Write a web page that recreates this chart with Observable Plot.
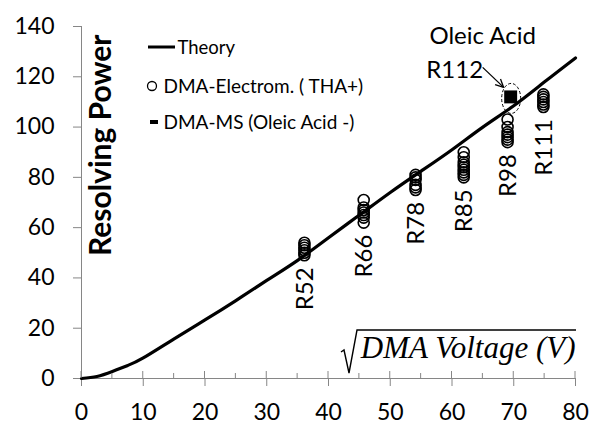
<!DOCTYPE html>
<html>
<head>
<meta charset="utf-8">
<script src="https://cdn.jsdelivr.net/npm/d3@7"></script>
<script src="https://cdn.jsdelivr.net/npm/@observablehq/plot@0.6"></script>
<style>
  html, body { margin: 0; padding: 0; background: #fff; }
  #chart svg { display: block; }
</style>
</head>
<body>
<div id="chart"></div>
<script>
// Axis ticks
const xTicks = [0, 10, 20, 30, 40, 50, 60, 70, 80];
const xMinorTicks = [5, 15, 25, 35, 45, 55, 65, 75];
const yTicks = [0, 20, 40, 60, 80, 100, 120, 140];

// Theoretical resolving power vs sqrt(DMA voltage)
const theoryVoltage = [0, 2.5, 5, 7.5, 10, 15, 20, 25, 30, 35, 40, 45, 50, 55, 60, 65, 70, 75, 80];
const theoryResolution = [0, 0.8, 2.8, 5.2, 8.2, 15.8, 23.3, 31, 39, 47, 56, 65, 74, 82.5, 91, 100, 108.5, 118, 127.5];

// DMA-electrometer runs (THA+): one voltage per run, repeated measurements
const runLabels = ["R52", "R66", "R78", "R85", "R98", "R111"];
const runVoltage = [36.1, 45.7, 54.1, 61.9, 69.0, 74.8];
const runResolution = [
  [49, 50, 51, 52, 53, 54],
  [62, 64, 65, 66, 67, 68, 71],
  [75, 76, 77, 79, 80, 81],
  [80, 81, 82, 83, 84, 85, 86, 88, 90],
  [94, 95, 96, 97, 98, 100, 103],
  [108, 109, 110, 111, 112, 113]
];

// DMA-MS measurement (oleic acid -)
const oleicVoltage = [69.5];
const oleicResolution = [112];
const oleicLabels = ["Oleic Acid", "R112"];

const legendLabels = ["Theory", "DMA-Electrom. ( THA+)", "DMA-MS (Oleic Acid -)"];

const GRAY = "#868686";
const FONT = "Lato, sans-serif";

const theory = theoryVoltage.map((v, i) => ({v, r: theoryResolution[i]}));
const runs = runVoltage.flatMap((v, i) => runResolution[i].map(r => ({v, r})));
const runTags = runLabels.map((label, i) => ({label, v: runVoltage[i], r: d3.min(runResolution[i])}));
const oleic = oleicVoltage.map((v, i) => ({v, r: oleicResolution[i]}));

const plot = Plot.plot({
  width: 595,
  height: 428,
  marginLeft: 81,
  marginRight: 20,
  marginTop: 26,
  marginBottom: 50,
  x: {domain: [0, 80]},
  y: {domain: [0, 140]},
  style: {fontFamily: FONT, fontSize: "23px", background: "white", color: "black"},
  marks: [
    Plot.axisY({ticks: yTicks, tickSize: 8, tickPadding: 19, stroke: GRAY, fill: "black", fontSize: 23, label: null}),
    Plot.axisX({ticks: xTicks, tickSize: 8, tickPadding: 17, stroke: GRAY, fill: "black", fontSize: 23, label: null}),
    Plot.ruleX([0], {stroke: GRAY}),
    Plot.ruleY([0], {stroke: GRAY}),
    Plot.line(theory, {x: "v", y: "r", curve: "natural", stroke: "black", strokeWidth: 3.2}),
    Plot.dot(runs, {x: "v", y: "r", r: 5.5, stroke: "black", strokeWidth: 1.6}),
    Plot.dot(oleic, {x: "v", y: "r", symbol: "square", r: 7.3, fill: "black"}),
    Plot.text(runTags, {x: "v", y: "r", text: "label", rotate: -90, textAnchor: "end", dy: 12, dx: 1, fontSize: 24, fill: "black"}),
    Plot.text(oleic, {x: "v", y: "r", text: () => oleicLabels[0], dx: -28, dy: -53, lineAnchor: "bottom", fontSize: 24, fill: "black"}),
    Plot.text(oleic, {x: "v", y: "r", text: () => oleicLabels[1], dx: -56, dy: -19, lineAnchor: "bottom", fontSize: 24, fill: "black"}),
    Plot.text(["Resolving Power"], {frameAnchor: "top-left", rotate: -90, textAnchor: "end", dx: 8, dy: 8, fontSize: 30, fontWeight: "bold", fill: "black"}),
    Plot.text(["DMA Voltage (V)"], {frameAnchor: "bottom-right", textAnchor: "end", lineAnchor: "bottom", dy: -21, fontSize: 31, fontStyle: "italic", fontFamily: "Liberation Serif, serif", fill: "black"}),
    Plot.text([legendLabels[0]], {frameAnchor: "top-left", textAnchor: "start", lineAnchor: "middle", dx: 96, dy: 22, fontSize: 18.5, fill: "black"}),
    Plot.text([legendLabels[1]], {frameAnchor: "top-left", textAnchor: "start", lineAnchor: "middle", dx: 82, dy: 60, fontSize: 19, fill: "black"}),
    Plot.text([legendLabels[2]], {frameAnchor: "top-left", textAnchor: "start", lineAnchor: "middle", dx: 82, dy: 96, fontSize: 19, fill: "black"})
  ]
});

// Decorations placed through the plot's scales
const sx = plot.scale("x"), sy = plot.scale("y");
const svg = d3.select(plot);
const g = svg.append("g").attr("fill", "none");
const x0 = sx.apply(0), y0 = sy.apply(0);
const xRight = sx.apply(80);

// inward tick marks on the x axis
xTicks.forEach(t => g.append("line").attr("x1", sx.apply(t)).attr("x2", sx.apply(t)).attr("y1", y0 - 7).attr("y2", y0).attr("stroke", GRAY));
xMinorTicks.forEach(t => g.append("line").attr("x1", sx.apply(t)).attr("x2", sx.apply(t)).attr("y1", y0 - 5).attr("y2", y0).attr("stroke", GRAY));

// radical sign over the x-axis title
g.append("path")
  .attr("d", `M${xRight - 234},${y0 - 26} L${xRight - 231},${y0 - 28} L${xRight - 226},${y0 - 5} L${xRight - 218},${y0 - 48} L${xRight + 1},${y0 - 48}`)
  .attr("stroke", "black").attr("stroke-width", 1.4).attr("stroke-linejoin", "miter");

// dashed ring and arrow for the oleic acid point
const ox = sx.apply(oleicVoltage[0]), oy = sy.apply(oleicResolution[0]);
g.append("ellipse").attr("cx", ox + 1).attr("cy", oy + 2).attr("rx", 9.5).attr("ry", 15)
  .attr("stroke", "black").attr("stroke-width", 1).attr("stroke-dasharray", "3,2");
const ax1 = ox - 27.5, ay1 = oy - 29, ax2 = ox - 6.5, ay2 = oy - 9;
g.append("line").attr("x1", ax1).attr("y1", ay1).attr("x2", ax2).attr("y2", ay2).attr("stroke", "black").attr("stroke-width", 1.3);
const ang = Math.atan2(ay2 - ay1, ax2 - ax1);
[-0.45, 0.45].forEach(da => {
  g.append("line").attr("x1", ax2).attr("y1", ay2)
    .attr("x2", ax2 - 9 * Math.cos(ang + da)).attr("y2", ay2 - 9 * Math.sin(ang + da))
    .attr("stroke", "black").attr("stroke-width", 1.3);
});

// legend swatches
const lx = x0, ly = sy.apply(140);
g.append("line").attr("x1", lx + 67).attr("x2", lx + 94).attr("y1", ly + 21).attr("y2", ly + 21).attr("stroke", "black").attr("stroke-width", 3);
g.append("circle").attr("cx", lx + 71).attr("cy", ly + 60).attr("r", 4.5).attr("stroke", "black").attr("stroke-width", 1.3);
g.append("line").attr("x1", lx + 69).attr("x2", lx + 77).attr("y1", ly + 96).attr("y2", ly + 96).attr("stroke", "black").attr("stroke-width", 4);

document.getElementById("chart").appendChild(plot);
</script>
</body>
</html>
